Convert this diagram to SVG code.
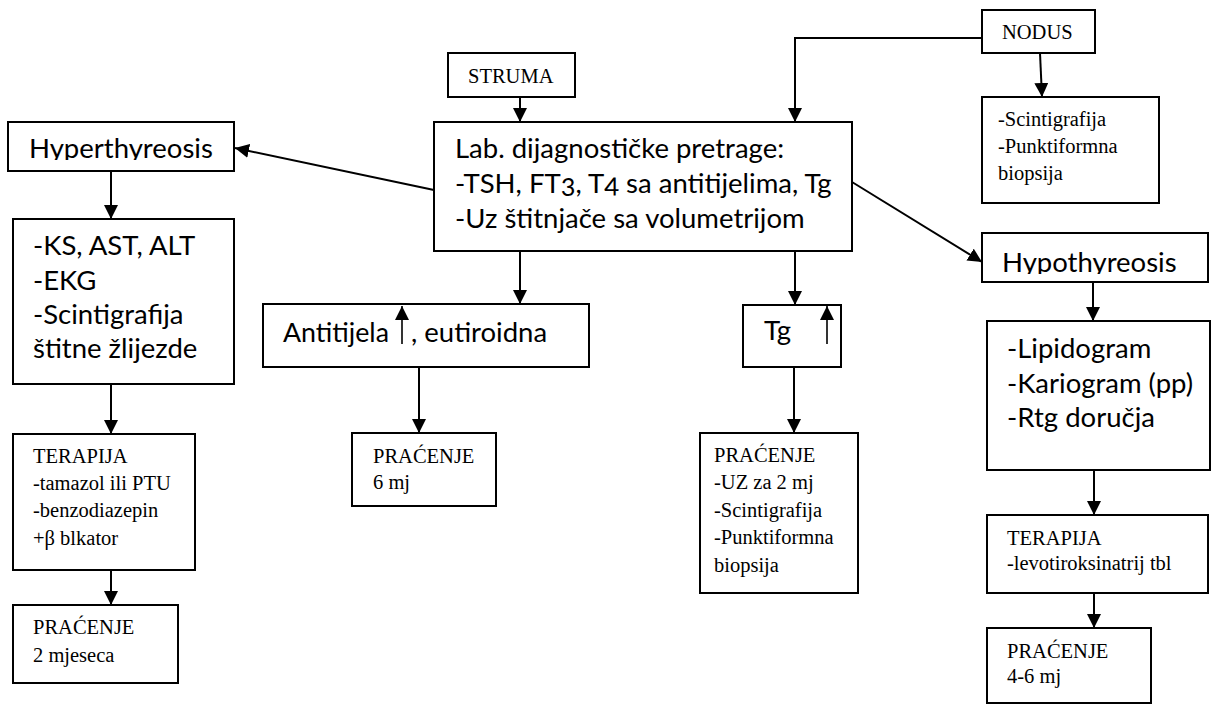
<svg xmlns="http://www.w3.org/2000/svg" width="1216" height="704" viewBox="0 0 1216 704">
<style>
.box{fill:#fff;stroke:#000;stroke-width:2}
.sans{font-family:Lato,"Open Sans","Liberation Sans",sans-serif;font-size:27.5px;fill:#000;font-variant-numeric:oldstyle-nums}
.serif{font-family:"Liberation Serif","Times New Roman",serif;font-size:20.5px;fill:#000}
.conn{fill:none;stroke:#000;stroke-width:2}
.up{fill:none;stroke:#000;stroke-width:1.6}
</style>
<defs>
<marker id="ah" markerUnits="userSpaceOnUse" markerWidth="14" markerHeight="14" refX="14" refY="7" orient="auto" viewBox="0 0 14 14">
<path d="M0,0 L14,7 L0,14 z" fill="#000"/>
</marker>
<clipPath id="clipHyper"><rect x="0" y="110" width="240" height="50"/></clipPath>
<clipPath id="clipHypo"><rect x="980" y="220" width="236" height="54"/></clipPath>
</defs>
<rect width="1216" height="704" fill="#fff"/>

<g id="connectors">
<path class="conn" d="M520,97 L520,122" marker-end="url(#ah)"/>
<path class="conn" d="M982,38 L795,38 L795,122" marker-end="url(#ah)"/>
<path class="conn" d="M1040,53 L1042,97" marker-end="url(#ah)"/>
<path class="conn" d="M434,190 L235,148" marker-end="url(#ah)"/>
<path class="conn" d="M852,182 L982,262" marker-end="url(#ah)"/>
<path class="conn" d="M520,251 L520,304" marker-end="url(#ah)"/>
<path class="conn" d="M795,251 L795,305" marker-end="url(#ah)"/>
<path class="conn" d="M111,171 L111,219" marker-end="url(#ah)"/>
<path class="conn" d="M111,384 L111,434" marker-end="url(#ah)"/>
<path class="conn" d="M111,570 L111,605" marker-end="url(#ah)"/>
<path class="conn" d="M419,367 L419,433" marker-end="url(#ah)"/>
<path class="conn" d="M794,367 L794,433" marker-end="url(#ah)"/>
<path class="conn" d="M1093,282 L1093,321" marker-end="url(#ah)"/>
<path class="conn" d="M1094,470 L1094,515" marker-end="url(#ah)"/>
<path class="conn" d="M1094,593 L1094,628" marker-end="url(#ah)"/>
</g>

<g id="struma">
<rect class="box" x="448" y="53" width="127" height="44"/>
<text class="serif" x="468" y="83">STRUMA</text>
</g>

<g id="nodus">
<rect class="box" x="982" y="10" width="113" height="43"/>
<text class="serif" x="1002" y="39">NODUS</text>
</g>

<g id="lab">
<rect class="box" x="434" y="122" width="418" height="129"/>
<text class="sans" x="455" y="158">Lab. dijagnostičke pretrage:</text>
<text class="sans" x="455" y="193">-TSH, FT3, T4 sa antitijelima, Tg</text>
<text class="sans" x="455" y="228">-Uz štitnjače sa volumetrijom</text>
</g>

<g id="hyper">
<rect class="box" x="8" y="122" width="226" height="49"/>
<text class="sans" x="29" y="158" clip-path="url(#clipHyper)">Hyperthyreosis</text>
</g>

<g id="hyper-tests">
<rect class="box" x="13" y="219" width="221" height="165"/>
<text class="sans" x="33" y="255">-KS, AST, ALT</text>
<text class="sans" x="33" y="290">-EKG</text>
<text class="sans" x="33" y="324">-Scintigrafija</text>
<text class="sans" x="33" y="358">štitne žlijezde</text>
</g>

<g id="hyper-terapija">
<rect class="box" x="13" y="434" width="182" height="136"/>
<text class="serif" x="33" y="463">TERAPIJA</text>
<text class="serif" x="33" y="490">-tamazol ili PTU</text>
<text class="serif" x="33" y="517">-benzodiazepin</text>
<text class="serif" x="33" y="545">+β blkator</text>
</g>

<g id="hyper-pracenje">
<rect class="box" x="13" y="605" width="165" height="78"/>
<text class="serif" x="33" y="634">PRAĆENJE</text>
<text class="serif" x="33" y="662">2 mjeseca</text>
</g>

<g id="antitijela">
<rect class="box" x="263" y="304" width="326" height="63"/>
<text class="sans" x="283" y="342" textLength="106" lengthAdjust="spacingAndGlyphs">Antitijela</text>
<path class="up" d="M402,344 L402,306" marker-end="url(#ah)"/>
<text class="sans" x="411" y="342">, eutiroidna</text>
</g>

<g id="anti-pracenje">
<rect class="box" x="352" y="433" width="144" height="73"/>
<text class="serif" x="373" y="463">PRAĆENJE</text>
<text class="serif" x="373" y="489">6 mj</text>
</g>

<g id="tg">
<rect class="box" x="743" y="305" width="98" height="62"/>
<text class="sans" x="764" y="340">Tg</text>
<path class="up" d="M827,344 L827,306" marker-end="url(#ah)"/>
</g>

<g id="tg-pracenje">
<rect class="box" x="700" y="433" width="158" height="160"/>
<text class="serif" x="714" y="462">PRAĆENJE</text>
<text class="serif" x="714" y="489">-UZ za 2 mj</text>
<text class="serif" x="714" y="517">-Scintigrafija</text>
<text class="serif" x="714" y="544">-Punktiformna</text>
<text class="serif" x="714" y="572">biopsija</text>
</g>

<g id="nodus-tests">
<rect class="box" x="982" y="97" width="177" height="106"/>
<text class="serif" x="998" y="126">-Scintigrafija</text>
<text class="serif" x="998" y="153">-Punktiformna</text>
<text class="serif" x="998" y="180">biopsija</text>
</g>

<g id="hypo">
<rect class="box" x="982" y="233" width="226" height="49"/>
<text class="sans" x="1002" y="272" clip-path="url(#clipHypo)">Hypothyreosis</text>
</g>

<g id="hypo-tests">
<rect class="box" x="987" y="321" width="223" height="149"/>
<text class="sans" x="1007" y="358">-Lipidogram</text>
<text class="sans" x="1007" y="393">-Kariogram (pp)</text>
<text class="sans" x="1007" y="427">-Rtg doručja</text>
</g>

<g id="hypo-terapija">
<rect class="box" x="987" y="515" width="221" height="78"/>
<text class="serif" x="1007" y="545">TERAPIJA</text>
<text class="serif" x="1007" y="570">-levotiroksinatrij tbl</text>
</g>

<g id="hypo-pracenje">
<rect class="box" x="987" y="628" width="164" height="75"/>
<text class="serif" x="1007" y="658">PRAĆENJE</text>
<text class="serif" x="1007" y="683">4-6 mj</text>
</g>
</svg>
